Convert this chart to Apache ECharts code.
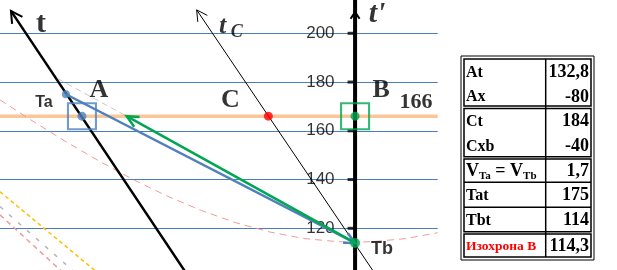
<!DOCTYPE html>
<html><head><meta charset="utf-8">
<script src="https://cdn.jsdelivr.net/npm/echarts@6/dist/echarts.min.js"></script>
<style>html,body{margin:0;padding:0;background:#fff}#c{width:617px;height:270px}</style>
</head><body><div id="c"></div>
<script>
// ---- data ----
const xRange = [-104, 24.2];
const yRange = [100, 220];
const yTickStep = 20;
const yTickLabels = [120, 140, 160, 180, 200];
const level166 = 166;
const pointTa = [-84.7, 175];
const pointA = [-80, 166];
const pointC = [-25.4, 166];
const pointB = [0, 166];
const pointTb = [0, 114];
const axisT = [[-100.8, 209.2], [-48.7, 100]];
const axisTC = [[-46.4, 209.6], [6.5, 100]];
const tPrimeTip = [0, 208.7];
const greenTip = [-66.9, 166];
const grayExtension = [[-87, 181.3], [-66.9, 166]];
const isoX = [-104, -95, -85, -75, -65, -55, -45, -35, -25, -15, -5, 0, 5, 15, 24.2];
const isoY = [172.7, 164.5, 155.8, 147.6, 140.0, 133.2, 127.3, 122.3, 118.5, 115.8, 114.5, 114.3, 114.5, 115.8, 118.2];
const yellowDash = [[-104, 135], [-73.9, 100]];
const grayDash = [[-104, 128.9], [-80.5, 100]];
const pinkDash = [[-104, 125.5], [-84.1, 100]];
const tableLabels = ['At', 'Ax', 'Ct', 'Cxb', 'VTa = VTb', 'Tat', 'Tbt', 'Изохрона B'];
const tableValues = ['132,8', '-80', '184', '-40', '1,7', '175', '114', '114,3'];

// ---- chart ----
const chart = echarts.init(document.getElementById('c'), null, {renderer: 'canvas'});
const SERIF = 'Liberation Serif';
const SANS = 'Liberation Sans';

function lineS(data, color, width, type, z) {
  return {type: 'line', data: data, showSymbol: false, silent: true, z: z || 2,
    lineStyle: {color: color, width: width, type: type || 'solid'}, animation: false};
}
const isoData = isoX.map((x, i) => [x, isoY[i]]);

// arrow heads: [tipX, tipY, fromX, fromY]
const arrowData = [
  [axisT[0][0], axisT[0][1], axisT[1][0], axisT[1][1]],
  [axisTC[0][0], axisTC[0][1], axisTC[1][0], axisTC[1][1]],
  [tPrimeTip[0], tPrimeTip[1], 0, yRange[0]],
  [pointTb[0], pointTb[1], pointTa[0], pointTa[1]],
  [greenTip[0], greenTip[1], pointTb[0], pointTb[1]]
];
const arrowStyles = [
  {len: 13, half: 0.5, color: '#000', w: 2},
  {len: 12, half: 0.5, color: '#000', w: 1},
  {len: 8, half: 0.6, color: '#000', w: 2},
  {len: 12, half: 0.45, color: '#4f81bd', w: 2.5},
  {len: 13, half: 0.45, color: '#00a651', w: 2.5}
];

function txt(point, text, offset, font) {
  return {value: point, label: Object.assign({show: true, position: 'inside', formatter: text, offset: offset, color: '#000'}, font)};
}
const bigSerif = {fontFamily: SERIF, fontWeight: 'bold', fontSize: 26};
const labelData = [
  txt(axisT[0], 't', [30, 13], {fontFamily: SERIF, fontWeight: 'bold', fontSize: 30}),
  txt(axisTC[0], 't', [26, 16], {fontFamily: SERIF, fontWeight: 'bold', fontStyle: 'italic', fontSize: 26}),
  txt(axisTC[0], 'C', [40, 22], {fontFamily: SERIF, fontWeight: 'bold', fontStyle: 'italic', fontSize: 18}),
  txt(tPrimeTip, "t'", [22, 2], {fontFamily: SERIF, fontWeight: 'bold', fontStyle: 'italic', fontSize: 30}),
  txt(pointTa, 'Ta', [-22, 8], {fontFamily: SANS, fontWeight: 'bold', fontSize: 16}),
  txt(pointA, 'A', [17, -26], bigSerif),
  txt(pointC, 'C', [-38, -16], bigSerif),
  txt(pointB, 'B', [26, -26], bigSerif),
  txt(pointB, String(level166), [61, -14], {fontFamily: SERIF, fontWeight: 'bold', fontSize: 22}),
  txt(pointTb, 'Tb', [27, 6], {fontFamily: SANS, fontWeight: 'bold', fontSize: 18})
];
const tickData = yTickLabels.map(v => ({value: [0, v], label: {show: true, position: 'left', formatter: String(v),
  distance: 13, color: '#000', fontFamily: SANS, fontSize: 17}}));

// ---- table (graphic) ----
const T = {x0: 461, y0: 56, x1: 594, y1: 260, ix0: 464, ix1: 591, div: 545.7};
const boxes = [[59, 106], [108.5, 156.7], [159, 231.7], [234, 257]];
const innerLines = [182.3, 207.3];
const rowY = [72.7, 97.3, 121.7, 146.7, 171.7, 195.7, 220.7, 246.7];
const graphics = [];
graphics.push({type: 'rect', shape: {x: T.x0, y: T.y0, width: T.x1 - T.x0, height: T.y1 - T.y0},
  style: {fill: '#fff', stroke: '#000', lineWidth: 1}, z: 10});
boxes.forEach(b => graphics.push({type: 'rect', shape: {x: T.ix0, y: b[0], width: T.ix1 - T.ix0, height: b[1] - b[0]},
  style: {fill: 'none', stroke: '#000', lineWidth: 1.5}, z: 11}));
innerLines.forEach(y => graphics.push({type: 'line', shape: {x1: T.ix0, y1: y, x2: T.ix1, y2: y},
  style: {stroke: '#000', lineWidth: 1.5}, z: 11}));
graphics.push({type: 'line', shape: {x1: T.div, y1: boxes[0][0], x2: T.div, y2: boxes[3][1]},
  style: {stroke: '#000', lineWidth: 1.5}, z: 11});
tableLabels.forEach((lab, i) => {
  if (i === 4) {
    graphics.push({type: 'text', x: 466, y: rowY[i], z: 12, style: {
      text: '{v|V}{s|Ta}{v| = V}{s|Tb}', verticalAlign: 'middle', align: 'left',
      rich: {v: {fontFamily: SERIF, fontWeight: 'bold', fontSize: 18, lineHeight: 20, verticalAlign: 'middle', fill: '#000'},
             s: {fontFamily: SERIF, fontWeight: 'bold', fontSize: 11, lineHeight: 20, verticalAlign: 'bottom', padding: [6, 0, 0, 0], fill: '#000'}}}});
  } else {
    const red = i === 7;
    graphics.push({type: 'text', x: 466, y: rowY[i], z: 12, style: {
      text: lab, fill: red ? '#ff0000' : '#000', fontFamily: SERIF, fontWeight: 'bold',
      fontSize: red ? 13.5 : 16, verticalAlign: 'middle', align: 'left'}});
  }
  graphics.push({type: 'text', x: 589, y: rowY[i], z: 12, style: {
    text: tableValues[i], fill: '#000', fontFamily: SERIF, fontWeight: 'bold', fontSize: 18,
    verticalAlign: 'middle', align: 'right'}});
});

const option = {
  animation: false,
  grid: {left: 0, width: 437.7, top: -15.45, height: 292.5, containLabel: false, outerBoundsMode: 'none'},
  xAxis: {type: 'value', min: xRange[0], max: xRange[1], show: false, splitLine: {show: false}},
  yAxis: {type: 'value', min: yRange[0], max: yRange[1], interval: yTickStep,
    axisLine: {show: false}, axisTick: {show: false}, axisLabel: {show: false},
    splitLine: {show: true, lineStyle: {color: '#4a7ebb', width: 1}}},
  graphic: graphics,
  series: [
    lineS([[xRange[0], level166], [xRange[1], level166]], '#f9c79a', 3.5, 'solid', 1),
    lineS(isoData, '#f19a9a', 1, [7, 5], 2),
    lineS(yellowDash, '#ffc000', 1.5, [4, 3], 2),
    lineS(grayDash, '#b4b4b4', 1.5, [4, 8], 2),
    lineS(pinkDash, '#f19a9a', 1.5, [5, 4], 2),
    lineS(grayExtension, '#c8c8c8', 1, [6, 4], 2),
    lineS(axisT, '#000', 2.5, 'solid', 3),
    lineS(axisTC, '#000', 1, 'solid', 3),
    lineS([[0, yRange[0]], [0, yRange[1]]], '#000', 4, 'solid', 3),
    {type: 'scatter', symbol: 'rect', symbolSize: [7, 3], symbolOffset: [-4, 0], z: 3, silent: true,
      itemStyle: {color: '#000'}, data: tickData},
    lineS([pointTa, pointTb], '#4f81bd', 2.5, 'solid', 4),
    lineS([pointTb, greenTip], '#00a651', 2.5, 'solid', 4),
    {type: 'custom', coordinateSystem: 'cartesian2d', data: arrowData, clip: false, silent: true, z: 5,
      renderItem: function (params, api) {
        const tip = api.coord([api.value(0), api.value(1)]);
        const from = api.coord([api.value(2), api.value(3)]);
        const a = Math.atan2(from[1] - tip[1], from[0] - tip[0]);
        const s = arrowStyles[params.dataIndex];
        const p1 = [tip[0] + s.len * Math.cos(a + s.half), tip[1] + s.len * Math.sin(a + s.half)];
        const p2 = [tip[0] + s.len * Math.cos(a - s.half), tip[1] + s.len * Math.sin(a - s.half)];
        return {type: 'polyline', shape: {points: [p1, tip, p2]}, style: {stroke: s.color, lineWidth: s.w, fill: null}};
      }},
    {type: 'scatter', symbol: 'rect', symbolSize: [28, 26], z: 6, silent: true,
      data: [{value: pointA, itemStyle: {borderColor: '#4f81bd'}}, {value: pointB, itemStyle: {borderColor: '#00a651'}}],
      itemStyle: {color: 'rgba(0,0,0,0)', borderWidth: 2}},
    {type: 'scatter', symbol: 'circle', z: 7, silent: true,
      data: [
        {value: pointTa, symbolSize: 8, itemStyle: {color: '#4f81bd'}},
        {value: pointA, symbolSize: 9, itemStyle: {color: '#4f81bd'}},
        {value: pointC, symbolSize: 9, itemStyle: {color: '#ff0000'}},
        {value: pointB, symbolSize: 9, itemStyle: {color: '#00a651'}},
        {value: pointTb, symbolSize: 10, itemStyle: {color: '#00a651'}}
      ]},
    {type: 'scatter', symbolSize: 0, z: 8, silent: true, data: labelData}
  ]
};
chart.setOption(option);
</script>
</body></html>
